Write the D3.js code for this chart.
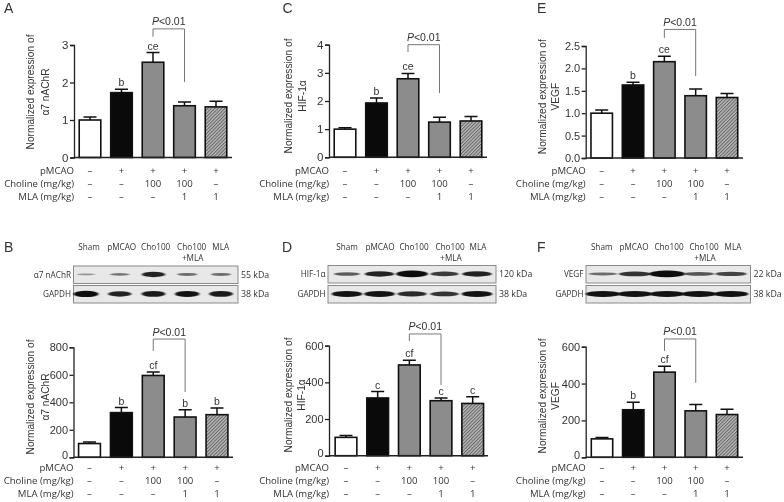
<!DOCTYPE html>
<html><head><meta charset="utf-8">
<script src="https://cdn.jsdelivr.net/npm/d3@7"></script>
<style>
html,body{margin:0;padding:0;background:#fff}
svg{display:block;filter:blur(0.35px)}
text{font-family:"Liberation Sans",Arial,sans-serif;fill:#333}
.row,.lane{font-family:"Open Sans","Noto Sans",sans-serif;fill:#333}
</style></head><body>
<svg id="c" width="784" height="502"></svg>
<script>
const categories=["Sham","pMCAO","Cho100","Cho100+MLA","MLA"];
const rowNames=["pMCAO","Choline (mg/kg)","MLA (mg/kg)"];
const rowPMCAO=["–","+","+","+","+"];
const rowCholine=["–","–","100","100","–"];
const rowMLA=["–","–","–","1","1"];
const laneNames=["Sham","pMCAO","Cho100","Cho100","MLA"];

const meanA=[1.0,1.73,2.54,1.38,1.35], errA=[0.08,0.09,0.26,0.10,0.15];
const meanB=[100,325,595,293,310],     errB=[12,37,25,52,48];
const meanC=[1.0,1.93,2.79,1.25,1.29], errC=[0.05,0.18,0.19,0.17,0.16];
const meanD=[100,315,495,300,285],     errD=[10,35,25,15,37];
const meanE=[1.0,1.63,2.15,1.39,1.35], errE=[0.07,0.06,0.12,0.15,0.09];
const meanF=[100,258,462,252,232],     errF=[8,40,32,35,28];

const sigA=["","b","ce","",""], sigB=["","b","cf","b","b"];
const sigC=["","b","ce","",""], sigD=["","c","cf","c","c"];
const sigE=["","b","ce","",""], sigF=["","b","cf","",""];

const ticksA=[0,1,2,3], ticksB=[0,200,400,600,800];
const ticksC=[0,1,2,3,4], ticksD=[0,200,400,600];
const ticksE=[0,0.5,1,1.5,2,2.5], ticksF=[0,200,400,600];

// bracket heights in data units: top, left end, right end
const brA=[3.43,3.22,2.01], brB=[860,773,475];
const brC=[4.0,3.74,2.28],  brD=[664,626,386];
const brE=[2.87,2.68,1.83], brF=[642,577,404];

// band strength per lane
const bandB1=[0.12,0.3,0.8,0.35,0.35], bandB2=[0.95,0.8,0.85,0.9,0.85];
const bandD1=[0.45,0.8,1,0.65,0.8],    bandD2=[0.9,0.9,0.75,0.7,0.9];
const bandF1=[0.35,0.7,1,0.5,0.6],     bandF2=[0.9,0.9,0.9,0.9,0.9];

const fills=["#fff","#0a0a0a","#8c8c8c","#8c8c8c","url(#hatch)"];
const svg=d3.select("#c");
const defs=svg.append("defs");
const pat=defs.append("pattern").attr("id","hatch").attr("width",2.4).attr("height",2.4)
  .attr("patternUnits","userSpaceOnUse").attr("patternTransform","rotate(45)");
pat.append("rect").attr("width",2.4).attr("height",2.4).attr("fill","#b8b8b8");
pat.append("rect").attr("width",1).attr("height",2.4).attr("fill","#666");
defs.append("filter").attr("id","soft").attr("x","-30%").attr("y","-80%").attr("width","160%").attr("height","260%")
  .append("feGaussianBlur").attr("stdDeviation","1.1 0.7");

function panel(o){
  const g=svg.append("g");
  const y=d3.scaleLinear().domain(o.domain).range([o.base,o.top]);
  const step=(o.c1-o.c0)/4;
  const x=d3.scaleBand().domain(categories).range([o.c0-step/2,o.c1+step/2]).paddingInner(0.315).paddingOuter(0.1575);
  const cx=i=>x(categories[i])+x.bandwidth()/2;

  g.append("text").attr("x",o.lx).attr("y",o.ly).attr("font-size",14).text(o.letter);

  g.selectAll(".err").data(o.mean).join("path")
    .attr("d",(d,i)=>{const t=y(d+o.err[i]),c=cx(i);
      return `M${c},${y(d)}V${t}M${c-6.5},${t}H${c+6.5}`;})
    .attr("stroke","#111").attr("stroke-width",1.5).attr("fill","none");
  g.selectAll(".bar").data(o.mean).join("rect")
    .attr("x",(d,i)=>x(categories[i])).attr("width",x.bandwidth())
    .attr("y",d=>y(d)).attr("height",d=>o.base-y(d))
    .attr("fill",(d,i)=>fills[i]).attr("stroke","#111").attr("stroke-width",1.6);
  const ya=g.append("g").attr("transform",`translate(${o.ax},0)`)
    .call(d3.axisLeft(y).tickValues(o.ticks).tickSize(4).tickPadding(1.5)
      .tickFormat(o.fmt?d3.format(o.fmt):d3.format("d")));
  ya.selectAll("path,line").attr("stroke","#222").attr("stroke-width",1.3);
  ya.selectAll("text").attr("font-size",o.tickSize||11).attr("fill","#333")
    .style("font-family",'"Liberation Sans",Arial,sans-serif');
  if(o.blot) ya.selectAll("text").filter(d=>d===0).attr("dy","0.1em");
  g.append("line").attr("x1",o.ax).attr("x2",o.xEnd).attr("y1",o.base).attr("y2",o.base)
    .attr("stroke","#222").attr("stroke-width",1.4);

  g.selectAll(".sig").data(o.sig).join("text")
    .attr("x",(d,i)=>cx(i)).attr("y",(d,i)=>y(o.mean[i]+o.err[i])-3)
    .attr("text-anchor","middle").attr("font-size",10.5).text(d=>d);

  g.append("path").attr("d",`M${cx(2)},${y(o.br[1])}V${y(o.br[0])}H${cx(3)}V${y(o.br[2])}`)
    .attr("fill","none").attr("stroke","#777").attr("stroke-width",1);
  const p=g.append("text").attr("x",(cx(2)+cx(3))/2).attr("y",y(o.br[0])-3.5)
    .attr("text-anchor","middle").attr("font-size",10.5);
  p.append("tspan").attr("font-style","italic").text("P");
  p.append("tspan").text("<0.01");

  [o.title1,o.title2].forEach((t,i)=>{
    g.append("text").attr("transform",`translate(${o.tx[i]+3.5},${o.ty}) rotate(-90)`)
      .attr("text-anchor","middle").attr("font-size",10.2).attr("fill","#444").text(t);
  });

  [rowPMCAO,rowCholine,rowMLA].forEach((row,r)=>{
    const ry=o.rowY+r*13.2;
    g.append("text").attr("class","row").attr("x",o.ax).attr("y",ry).attr("text-anchor","end")
      .attr("font-size",9.6).text(rowNames[r]);
    g.selectAll(null).data(row).join("text").attr("class","row")
      .attr("x",(d,i)=>cx(i)).attr("y",ry).attr("text-anchor","middle")
      .attr("font-size",9.6).attr("fill",d=>d==="–"?"#777":"#333").text(d=>d);
  });

  if(o.blot){
    const b=o.blot, bx=d3.scalePoint().domain(categories).range([b.b0,b.b1]);
    categories.forEach((c,i)=>{
      g.append("text").attr("class","lane").attr("x",b.laneX[i]).attr("y",250)
       .attr("text-anchor","middle").attr("font-size",8.2).text(laneNames[i]);
    });
    g.append("text").attr("class","lane").attr("x",b.laneX[3]+1).attr("y",261)
       .attr("text-anchor","middle").attr("font-size",8.2).text("+MLA");
    [[b.name,b.k1,b.band1,b.y1],["GAPDH","38 kDa",b.band2,b.y2]].forEach(([nm,k,bd,yy])=>{
      g.append("rect").attr("x",b.x0).attr("width",b.x1-b.x0).attr("y",yy).attr("height",17.5)
        .attr("fill","#e8e8e8").attr("stroke","#8a8a8a").attr("stroke-width",1);
      g.selectAll(null).data(bd).join("ellipse")
        .attr("cx",(d,i)=>bx(categories[i])).attr("cy",yy+8.4)
        .attr("rx",d=>b.w*(0.7+d*0.35)).attr("ry",d=>0.5+d*2.8)
        .attr("fill","#0c0c0c").attr("opacity",d=>Math.min(1,0.3+d*0.75))
        .attr("filter","url(#soft)");
      g.append("text").attr("class","lane").attr("x",b.x0-2.5).attr("y",yy+11.5)
        .attr("text-anchor","end").attr("font-size",8.2).text(nm);
      g.append("text").attr("class","lane").attr("x",b.x1+3).attr("y",yy+11.5)
        .attr("font-size",8.8).text(k);
    });
  }
}

panel({letter:"A",lx:4,ly:13,domain:[0,3],base:157.5,top:45,ax:74,xEnd:232,c0:90,c1:216,mean:meanA,err:errA,sig:sigA,ticks:ticksA,br:brA,tickSize:11.5,
  title1:"Normalized expression of",title2:"α7 nAChR",tx:[30,45],ty:92,rowY:173.5});
panel({letter:"B",lx:4,ly:252,domain:[0,800],base:457.3,top:347.3,ax:73.5,xEnd:233,c0:89.5,c1:217,mean:meanB,err:errB,sig:sigB,ticks:ticksB,br:brB,
  title1:"Normalized expression of",title2:"α7 nAChR",tx:[30.5,45],ty:397,rowY:471,
  blot:{w:12,name:"α7 nAChR",k1:"55 kDa",x0:73.5,x1:238,y1:266,y2:285.5,b0:86,b1:221,band1:bandB1,band2:bandB2,laneX:[89,121.7,155.7,191.7,220.7]}});
panel({letter:"C",lx:282.5,ly:13,domain:[0,4],base:157.3,top:44.7,ax:329,xEnd:487,c0:345,c1:471,mean:meanC,err:errC,sig:sigC,ticks:ticksC,br:brC,tickSize:11.5,
  title1:"Normalized expression of",title2:"HIF-1α",tx:[288,302],ty:96,rowY:173.5});
panel({letter:"D",lx:282,ly:252,domain:[0,600],base:455.7,top:345.7,ax:329,xEnd:488,c0:346,c1:472.7,mean:meanD,err:errD,sig:sigD,ticks:ticksD,br:brD,
  title1:"Normalized expression of",title2:"HIF-1α",tx:[288,301],ty:395,rowY:471,
  blot:{w:15,name:"HIF-1α",k1:"120 kDa",x0:328,x1:496,y1:265.5,y2:285.5,b0:347,b1:477,band1:bandD1,band2:bandD2,laneX:[347,380,414,450,478]}});
panel({letter:"E",lx:537,ly:13,domain:[0,2.5],base:158,top:46,ax:585.7,xEnd:743,c0:601.7,c1:727,mean:meanE,err:errE,sig:sigE,ticks:ticksE,br:brE,fmt:".1f",tickSize:11,
  title1:"Normalized expression of",title2:"VEGF",tx:[542,555],ty:96.7,rowY:173.5});
panel({letter:"F",lx:537,ly:252,domain:[0,600],base:457.3,top:346.7,ax:585.7,xEnd:743,c0:602,c1:727,mean:meanF,err:errF,sig:sigF,ticks:ticksF,br:brF,
  title1:"Normalized expression of",title2:"VEGF",tx:[542,555],ty:396,rowY:471,
  blot:{w:17,name:"VEGF",k1:"22 kDa",x0:586,x1:750.5,y1:265.5,y2:285.5,b0:603,b1:731,band1:bandF1,band2:bandF2,laneX:[601.7,634,669,704,733]}});
</script></body></html>
